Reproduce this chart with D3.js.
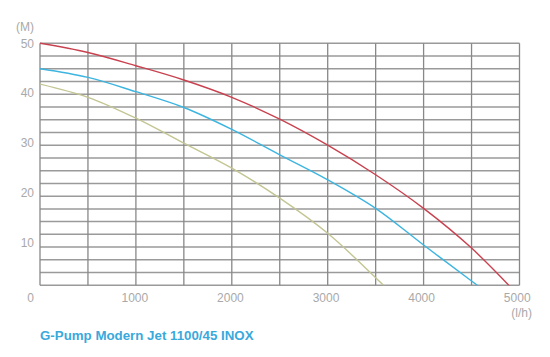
<!DOCTYPE html>
<html>
<head>
<meta charset="utf-8">
<script src="https://cdn.jsdelivr.net/npm/d3@7"></script>
<style>
  body { margin: 0; background: #fff; }
  svg { display: block; font-family: "Liberation Sans", Arial, sans-serif; }
  .lbl { fill: #a9a9a9; font-size: 12px; }
</style>
</head>
<body>
<svg id="chart" width="550" height="357"></svg>
<script>
// flow (l/h) and head (M)
var flow = [0, 500, 1000, 1500, 2000, 2500, 3000, 3500, 4000, 4500];
var redHead = [50, 48.2, 45.6, 42.8, 39.4, 35.1, 30.0, 24.2, 17.6, 9.8];
var redEnd = [5015, 0];
var blueHead = [45, 43.3, 40.5, 37.4, 33.1, 28.1, 23.2, 17.6, 10.4, 3.35];
var blueEnd = [4737, 0];
var oliveHead = [42, 39.4, 35.3, 30.4, 25.5, 19.6, 12.7, 4.0];
var oliveEnd = [3717, 0];

var xTicks = [0, 1000, 2000, 3000, 4000, 5000];
var yTicks = [10, 20, 30, 40, 50];
var title = "G-Pump Modern Jet 1100/45 INOX";

var svg = d3.select("#chart");

var x = d3.scaleLinear().domain([0, 5000]).range([40, 519.5]);
var y = d3.scaleLinear().domain([2.5, 50]).range([285.3, 43.3]);
// the printed labels sit a little off the grid in the original
var xLabel = d3.scaleLinear().domain([1000, 5000]).range([134.3, 516.7]);
var yLabel = d3.scaleLinear().domain([10, 50]).range([242.7, 43.3]);

function series(heads, end) {
    let pts = heads.map((h, i) => [flow[i], h]);
    pts.push(end);
    return pts;
}

svg.append("clipPath").attr("id", "plot")
    .append("rect")
    .attr("x", x(0)).attr("y", y(50) - 2)
    .attr("width", x(5000) - x(0)).attr("height", y(2.5) - y(50) + 2);

// grid
var grid = svg.append("g");
grid.selectAll(".h")
    .data(d3.range(2.5, 50.01, 2.5))
    .enter().append("line")
    .attr("x1", x(0)).attr("x2", x(5000))
    .attr("y1", d => y(d)).attr("y2", d => y(d))
    .attr("stroke", "#9a9a9a")
    .attr("stroke-width", 1.5);
grid.selectAll(".v")
    .data(d3.range(0, 5001, 500))
    .enter().append("line")
    .attr("y1", y(2.5)).attr("y2", y(50))
    .attr("x1", d => x(d)).attr("x2", d => x(d))
    .attr("stroke", "#888")
    .attr("stroke-width", 1.3);

// curves
var line = d3.line()
    .x(d => x(d[0]))
    .y(d => y(d[1]))
    .curve(d3.curveCatmullRom.alpha(0.5));

var curves = [
    {pts: series(oliveHead, oliveEnd), color: "#c3c592"},
    {pts: series(blueHead, blueEnd), color: "#3db5e0"},
    {pts: series(redHead, redEnd), color: "#c8424f"}
];
var cg = svg.append("g").attr("clip-path", "url(#plot)");
curves.forEach(function (c) {
    cg.append("path")
        .attr("d", line(c.pts))
        .attr("fill", "none")
        .attr("stroke", c.color)
        .attr("stroke-width", 1.4);
});

// axis labels
var xAxis = d3.axisBottom(xLabel).tickValues(xTicks).tickFormat(d3.format("d"))
    .tickSize(0).tickPadding(0);
var gx = svg.append("g").attr("transform", "translate(0,302)").call(xAxis);
gx.select(".domain").remove();
gx.selectAll("text")
    .attr("class", "lbl")
    .attr("fill", null)
    .attr("dy", 0)
    .attr("x", d => d === 0 ? 30 - xLabel(0) : 0)
    .style("font-size", "12px")
    .style("font-family", "Liberation Sans, Arial, sans-serif");

var yAxis = d3.axisLeft(yLabel).tickValues(yTicks).tickFormat(d3.format("d"))
    .tickSize(0).tickPadding(0);
var gy = svg.append("g").attr("transform", "translate(34,0)").call(yAxis);
gy.select(".domain").remove();
gy.selectAll("text")
    .attr("class", "lbl")
    .attr("fill", null)
    .attr("x", 0)
    .style("font-size", "12px")
    .style("font-family", "Liberation Sans, Arial, sans-serif");

svg.append("text").attr("class", "lbl")
    .attr("x", 34).attr("y", 31)
    .attr("text-anchor", "end")
    .text("(M)");
svg.append("text").attr("class", "lbl")
    .attr("x", 532).attr("y", 317)
    .attr("text-anchor", "end")
    .text("(l/h)");

svg.append("text")
    .attr("x", 40).attr("y", 340)
    .attr("fill", "#3aa9dc")
    .attr("font-weight", "bold")
    .attr("font-size", "13.3px")
    .text(title);
</script>
</body>
</html>
